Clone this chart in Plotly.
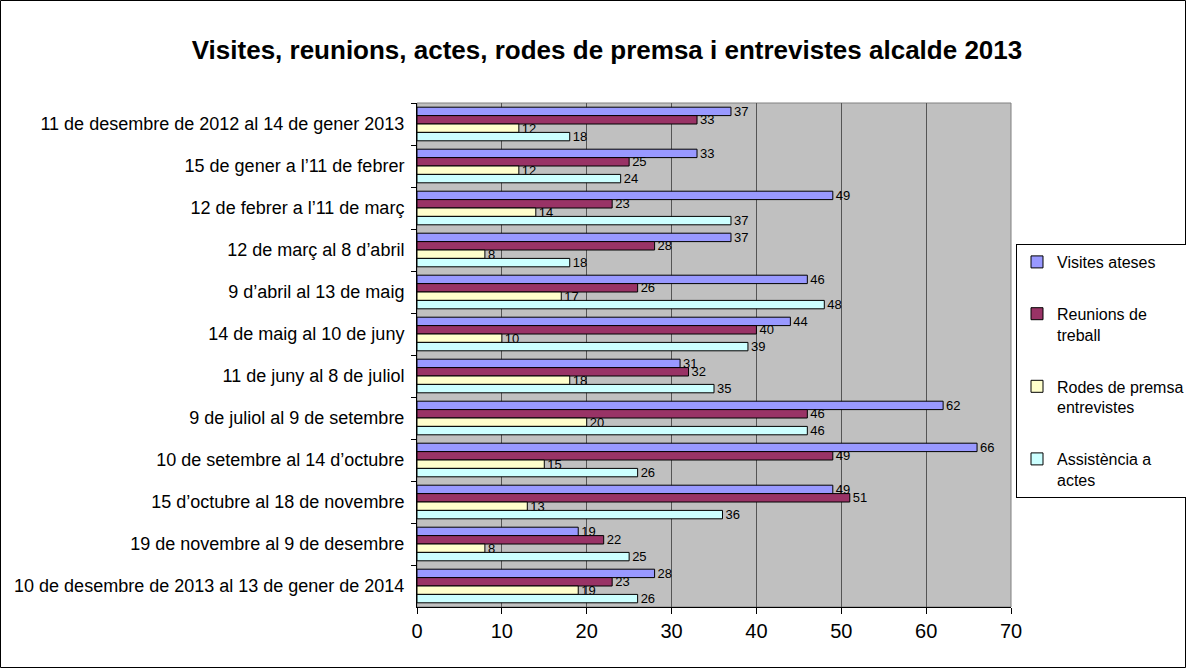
import plotly.graph_objects as go

periods = [
    "11 de desembre de 2012 al 14 de gener 2013",
    "15 de gener a l’11 de febrer",
    "12 de febrer a l’11 de març",
    "12 de març al 8 d’abril",
    "9 d’abril al 13 de maig",
    "14 de maig al 10 de juny",
    "11 de juny al 8 de juliol",
    "9 de juliol al 9 de setembre",
    "10 de setembre al 14 d’octubre",
    "15 d’octubre al 18 de novembre",
    "19 de novembre al 9 de desembre",
    "10 de desembre de 2013 al 13 de gener de 2014",
]

visites = [37, 33, 49, 37, 46, 44, 31, 62, 66, 49, 19, 28]
reunions = [33, 25, 23, 28, 26, 40, 32, 46, 49, 51, 22, 23]
rodes = [12, 12, 14, 8, 17, 10, 18, 20, 15, 13, 8, 19]
assistencia = [18, 24, 37, 18, 48, 39, 35, 46, 26, 36, 25, 26]

series = [
    ("Visites ateses", visites, "#9999FF"),
    ("Reunions de<br>treball", reunions, "#993366"),
    ("Rodes de premsa<br>entrevistes", rodes, "#FFFFCC"),
    ("Assistència a<br>actes", assistencia, "#CCFFFF"),
]

W, H = 1186, 668
L, R, T, B = 417, 175, 103, 61
pw, ph = W - L - R, H - T - B

fig = go.Figure()
for i, (name, vals, color) in enumerate(series):
    fig.add_trace(go.Bar(
        x=vals,
        y=periods,
        orientation='h',
        name=name,
        legendgroup=str(i),
        marker=dict(color=color, line=dict(color='black', width=1)),
        text=vals,
        textposition='outside',
        constraintext='none',
        textfont=dict(family='Arial', size=13, color='black'),
        cliponaxis=False,
    ))

fig.update_layout(
    width=W, height=H,
    margin=dict(l=L, r=R, t=T, b=B, autoexpand=False),
    paper_bgcolor='white',
    plot_bgcolor='#C0C0C0',
    barmode='group',
    bargap=0.2,
    bargroupgap=0,
    font=dict(family='Arial', color='black'),
    title=dict(
        text='<b>Visites, reunions, actes, rodes de premsa i entrevistes alcalde 2013</b>',
        font=dict(family='Arial', size=26, color='black'),
        x=607 / W, xanchor='center', xref='container',
        y=1 - 50 / H, yanchor='middle', yref='container',
    ),
    legend=dict(
        x=(1016 - L) / pw, xanchor='left',
        y=(H - B - 244) / ph, yanchor='top',
        bordercolor='black', borderwidth=1,
        font=dict(family='Arial', size=16),
        tracegroupgap=28,
        itemwidth=30,
        valign='top',
        bgcolor='white',
    ),
)

fig.update_xaxes(
    range=[0, 70], dtick=10,
    showgrid=True, gridcolor='#555555', gridwidth=1,
    zeroline=False,
    showline=True, linecolor='black', linewidth=1,
    ticks='outside', ticklen=6, tickcolor='black',
    tickfont=dict(family='Arial', size=20),
)
fig.update_yaxes(
    autorange='reversed',
    showgrid=False,
    showline=True, linecolor='black', linewidth=1,
    ticks='outside', ticklen=5, tickcolor='black',
    tickson='boundaries',
    tickfont=dict(family='Arial', size=18),
    ticklabelstandoff=8,
)

# gray frame on top/right of the plot area
fig.add_shape(type='rect', xref='paper', yref='paper', x0=0, x1=1, y0=0, y1=1,
              line=dict(color='#808080', width=1), layer='below')
# outer border of the whole chart
fig.add_shape(type='rect', xref='paper', yref='paper',
              x0=(0.5 - L) / pw, x1=(W - 0.5 - L) / pw,
              y0=(H - B - (H - 0.5)) / ph, y1=(H - B - 0.5) / ph,
              line=dict(color='black', width=1))

fig.write_html("out.html", config={'displayModeBar': False},
               post_script="document.body.style.margin='0';")
